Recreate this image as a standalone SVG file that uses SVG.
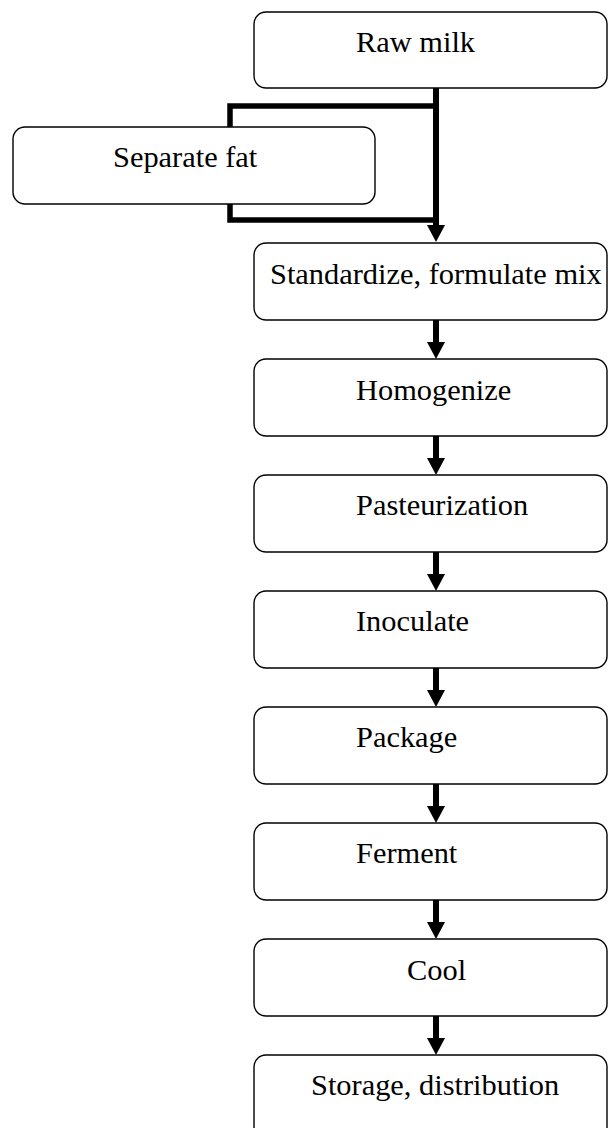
<svg xmlns="http://www.w3.org/2000/svg" width="608" height="1128" viewBox="0 0 608 1128">
<style>
.box{fill:#fff;stroke:#000;stroke-width:1.4}
.lbl{font-family:"Liberation Serif","Times New Roman",serif;font-size:30.4px;fill:#000}
.conn{fill:none;stroke:#000;stroke-width:6}
.br{fill:none;stroke:#000;stroke-width:5.5}
</style>
<defs>
<marker id="ah" markerUnits="userSpaceOnUse" markerWidth="17" markerHeight="18" viewBox="0 0 17 18" refX="0" refY="9" orient="auto">
<path d="M0,0 L17,9 L0,18 z" fill="#000"/>
</marker>
</defs>
<g id="connectors">
<path class="br" d="M436,106 H230 V220 H436"/>
<line class="conn" x1="436" y1="88" x2="436" y2="225" marker-end="url(#ah)"/>
<line class="conn" x1="436" y1="320" x2="436" y2="342" marker-end="url(#ah)"/>
<line class="conn" x1="436" y1="436" x2="436" y2="458" marker-end="url(#ah)"/>
<line class="conn" x1="436" y1="552" x2="436" y2="574" marker-end="url(#ah)"/>
<line class="conn" x1="436" y1="668" x2="436" y2="690" marker-end="url(#ah)"/>
<line class="conn" x1="436" y1="784" x2="436" y2="806" marker-end="url(#ah)"/>
<line class="conn" x1="436" y1="900" x2="436" y2="922" marker-end="url(#ah)"/>
<line class="conn" x1="436" y1="1016" x2="436" y2="1038" marker-end="url(#ah)"/>
</g>
<g id="raw-milk"><rect class="box" x="254" y="12" width="353" height="76" rx="12"/><text class="lbl" x="356" y="52">Raw milk</text></g>
<g id="separate-fat"><rect class="box" x="13" y="127" width="362" height="77" rx="12"/><text class="lbl" x="113" y="167">Separate fat</text></g>
<g id="standardize"><rect class="box" x="254" y="243" width="353" height="77" rx="12"/><text class="lbl" x="270" y="284">Standardize, formulate mix</text></g>
<g id="homogenize"><rect class="box" x="254" y="359" width="353" height="77" rx="12"/><text class="lbl" x="356" y="400">Homogenize</text></g>
<g id="pasteurization"><rect class="box" x="254" y="475" width="353" height="77" rx="12"/><text class="lbl" x="356" y="515">Pasteurization</text></g>
<g id="inoculate"><rect class="box" x="254" y="591" width="353" height="77" rx="12"/><text class="lbl" x="356" y="631">Inoculate</text></g>
<g id="package"><rect class="box" x="254" y="707" width="353" height="77" rx="12"/><text class="lbl" x="356" y="747">Package</text></g>
<g id="ferment"><rect class="box" x="254" y="823" width="353" height="77" rx="12"/><text class="lbl" x="356" y="863">Ferment</text></g>
<g id="cool"><rect class="box" x="254" y="939" width="353" height="77" rx="12"/><text class="lbl" x="407" y="980">Cool</text></g>
<g id="storage"><rect class="box" x="254" y="1055" width="353" height="90" rx="12"/><text class="lbl" x="311" y="1095">Storage, distribution</text></g>
</svg>
